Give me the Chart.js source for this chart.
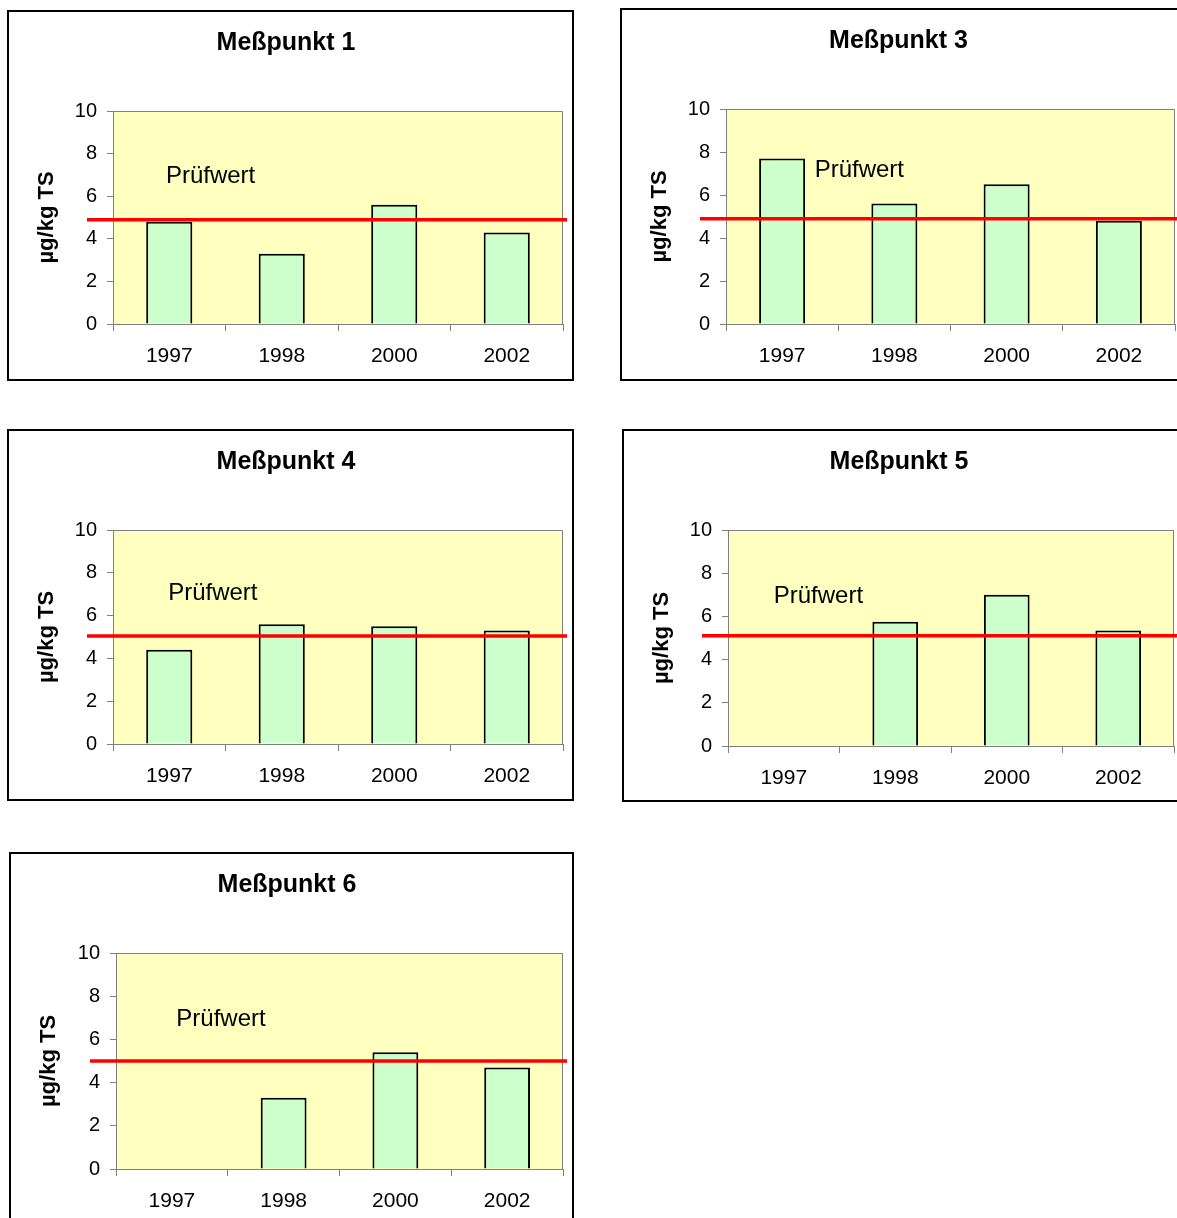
<!DOCTYPE html>
<html>
<head>
<meta charset="utf-8">
<script src="https://cdn.jsdelivr.net/npm/chart.js@4.4.1/dist/chart.umd.min.js"></script>
<style>
  html, body { margin: 0; padding: 0; background: #fff; width: 1177px; height: 1218px; overflow: hidden; }
  body { position: relative; }
  .panel { position: absolute; border: 2px solid #000; box-sizing: border-box; background: #fff; }
  .panel canvas { display: block; }
</style>
</head>
<body>
<script>
// ---- data -------------------------------------------------------------
const years = ['1997', '1998', '2000', '2002'];
const titles = ['Meßpunkt 1', 'Meßpunkt 3', 'Meßpunkt 4', 'Meßpunkt 5', 'Meßpunkt 6'];
const mp1 = [4.8, 3.3, 5.6, 4.3];
const mp3 = [7.7, 5.6, 6.5, 4.8];
const mp4 = [4.4, 5.6, 5.5, 5.3];
const mp5 = [null, 5.75, 7.0, 5.35];
const mp6 = [null, 3.3, 5.4, 4.7];
const series = [mp1, mp3, mp4, mp5, mp6];
const pruefwert = [4.9, 4.9, 5.05, 5.1, 5.0];   // limit line per measuring point
const yMin = 0, yMax = 10, yStep = 2;
const unitLabel = 'µg/kg TS';
const limitLabel = 'Prüfwert';

// ---- layout (page pixels) -----------------------------------------------
// box: outer frame [x, y, w, h]; area: plot rectangle [left, top, right, bottom];
// tag: where the limit caption starts, in axis units [category index, value]
const panels = [
  { box: [7, 10, 567, 371],   area: [113, 111, 563, 324],    tag: [-0.03, 6.92] },
  { box: [620, 8, 567, 373],  area: [726, 109, 1175, 324],   tag: [0.29, 7.15] },
  { box: [7, 429, 567, 372],  area: [113, 530, 563, 744],    tag: [-0.01, 7.04] },
  { box: [622, 429, 562, 373], area: [728, 530, 1174, 746],  tag: [-0.09, 6.95] },
  { box: [9, 852, 565, 380],  area: [116, 953, 563, 1169],   tag: [0.04, 6.93] }
];

const FONT = "'Liberation Sans', Arial, Helvetica, sans-serif";
const GREY = '#808080';
const PLOT_BG = '#FFFFC0';
const BAR_FILL = '#CCFFCC';

// plot background with grey frame on top/right
const plotBackground = {
  id: 'plotBackground',
  beforeDraw(chart) {
    const { ctx, chartArea: a } = chart;
    ctx.save();
    ctx.fillStyle = PLOT_BG;
    ctx.fillRect(a.left, a.top, a.right - a.left, a.bottom - a.top);
    ctx.strokeStyle = GREY;
    ctx.lineWidth = 1;
    ctx.beginPath();
    ctx.moveTo(a.left, a.top + 0.5);
    ctx.lineTo(a.right - 0.5, a.top + 0.5);
    ctx.lineTo(a.right - 0.5, a.bottom);
    ctx.stroke();
    ctx.restore();
  }
};

// red limit line plus its caption
const limitLine = {
  id: 'limitLine',
  afterDatasetsDraw(chart, args, opts) {
    const { ctx, chartArea: a, scales } = chart;
    const y = scales.y.getPixelForValue(opts.value);
    ctx.save();
    ctx.strokeStyle = '#FF0000';
    ctx.lineWidth = 3.5;
    ctx.beginPath();
    ctx.moveTo(a.left - 26, y);
    ctx.lineTo(a.right + 4, y);
    ctx.stroke();
    ctx.fillStyle = '#000';
    ctx.font = '24px ' + FONT;
    ctx.textAlign = 'left';
    ctx.textBaseline = 'middle';
    ctx.fillText(opts.text, scales.x.getPixelForValue(opts.tag[0]), scales.y.getPixelForValue(opts.tag[1]));
    ctx.restore();
  }
};

panels.forEach((p, i) => {
  const [bx, by, bw, bh] = p.box;
  const innerX = bx + 2, innerY = by + 2, cw = bw - 4, ch = bh - 4;
  const aL = p.area[0] - innerX, aT = p.area[1] - innerY;
  const aR = p.area[2] - innerX, aB = p.area[3] - innerY;

  const div = document.createElement('div');
  div.className = 'panel';
  div.style.left = bx + 'px';
  div.style.top = by + 'px';
  div.style.width = bw + 'px';
  div.style.height = bh + 'px';
  const canvas = document.createElement('canvas');
  canvas.width = cw; canvas.height = ch;
  canvas.style.width = cw + 'px'; canvas.style.height = ch + 'px';
  div.appendChild(canvas);
  document.body.appendChild(div);

  const titleSize = 25, titleLH = titleSize * 1.2;
  const titlePadTop = 31 - titleLH / 2;
  const yTitleSize = 22;

  new Chart(canvas, {
    type: 'bar',
    data: {
      labels: years,
      datasets: [{
        data: series[i],
        backgroundColor: BAR_FILL,
        borderColor: '#000',
        borderWidth: 2,
        barPercentage: 0.41,
        categoryPercentage: 1
      }]
    },
    options: {
      responsive: false,
      animation: false,
      devicePixelRatio: 1,
      layout: { padding: { left: 0, top: 0, right: cw - aR, bottom: 0 } },
      plugins: {
        legend: { display: false },
        tooltip: { enabled: false },
        title: {
          display: true,
          text: titles[i],
          color: '#000',
          font: { family: FONT, size: titleSize, weight: 'bold', lineHeight: 1.2 },
          padding: { top: titlePadTop, bottom: aT - titlePadTop - titleLH }
        },
        limitLine: { value: pruefwert[i], text: limitLabel, tag: p.tag }
      },
      scales: {
        x: {
          grid: { offset: true, drawOnChartArea: false, drawTicks: true, tickLength: 7, color: GREY },
          border: { color: GREY, width: 1 },
          ticks: { color: '#000', font: { family: FONT, size: 21 }, padding: 13, maxRotation: 0 },
          afterFit(scale) { scale.height = ch - aB; }
        },
        y: {
          min: yMin, max: yMax,
          grid: { drawOnChartArea: false, drawTicks: true, tickLength: 6, color: GREY },
          border: { color: GREY, width: 1 },
          ticks: { stepSize: yStep, color: '#000', font: { family: FONT, size: 20 }, padding: 10 },
          title: {
            display: true, text: unitLabel, color: '#000',
            font: { family: FONT, size: yTitleSize, weight: 'bold', lineHeight: 1.2 },
            padding: { top: 38 - yTitleSize * 0.6, bottom: 0 }
          },
          afterFit(scale) { scale.width = aL; }
        }
      }
    },
    plugins: [plotBackground, limitLine]
  });
});
</script>
</body>
</html>
